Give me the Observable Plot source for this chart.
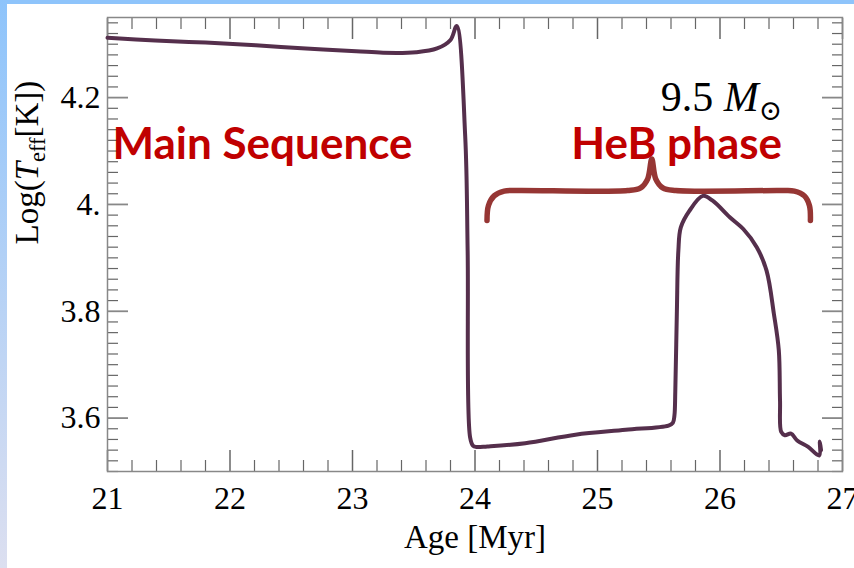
<!DOCTYPE html>
<html><head><meta charset="utf-8">
<script src="https://cdn.jsdelivr.net/npm/d3@7"></script>
<script src="https://cdn.jsdelivr.net/npm/@observablehq/plot@0.6"></script>
<style>
body{margin:0;background:#fff;}
#wrap{position:relative;width:854px;height:568px;overflow:hidden;background:#fff;}
#wrap svg{position:absolute;left:0;top:0;}
#topbar{position:absolute;left:0;top:0;width:854px;height:4px;background:#8ec4fb;}
#leftbar{position:absolute;left:0;top:0;width:7px;height:568px;background:linear-gradient(#8ec4fb,#dcdff0);}
</style></head><body><div id="wrap"></div>
<script>
// Evolutionary track of a 9.5 Msun star: age [Myr] vs log Teff
const ages = [21.00, 21.39, 21.80, 22.21, 22.62, 23.03, 23.25, 23.52, 23.69, 23.80, 23.85,
  23.92, 23.94, 23.96, 23.985, 24.01, 24.10, 24.41, 24.82, 25.23, 25.58, 25.615, 25.628,
  25.635, 25.648, 25.66, 25.68, 25.75, 25.86, 25.94, 26.08, 26.19, 26.30, 26.38, 26.44,
  26.48, 26.49, 26.50, 26.53, 26.58, 26.63, 26.72, 26.81, 26.815, 26.825];
const logTeff = [4.312, 4.307, 4.303, 4.298, 4.292, 4.287, 4.284, 4.285, 4.292, 4.308, 4.334,
  4.128, 3.913, 3.564, 3.548, 3.546, 3.547, 3.553, 3.569, 3.578, 3.586, 3.591, 3.605,
  3.650, 3.800, 3.913, 3.957, 3.988, 4.016, 4.007, 3.976, 3.954, 3.920, 3.876, 3.795,
  3.727, 3.633, 3.574, 3.568, 3.571, 3.558, 3.546, 3.530, 3.556, 3.540];

// Curly brace annotation over the HeB phase (data coordinates)
const braceX = [24.098, 24.110, 24.156, 24.238, 24.344, 25.246, 25.352, 25.410, 25.443,
  25.475, 25.533, 25.639, 26.500, 26.607, 26.689, 26.730, 26.738];
const braceY = [3.970, 3.998, 4.016, 4.025, 4.026, 4.026, 4.031, 4.048, 4.085,
  4.048, 4.031, 4.026, 4.026, 4.025, 4.016, 3.998, 3.970];

// Annotation labels
const phaseLabels = ["Main Sequence", "HeB phase"];
const phaseX = [21.041, 24.786];
const phaseY = [4.1116, 4.1116];
const massLabel = "9.5 Msun";
const massX = 25.516, massY = 4.201;

// Axes
const xMajor = [21, 22, 23, 24, 25, 26, 27];
const xMinor = d3.range(21, 27.001, 0.2).map(v => +v.toFixed(2)).filter(v => !xMajor.includes(v));
const yMajor = [3.6, 3.8, 4.0, 4.2];
const yMinor = d3.range(3.5, 4.35, 0.02).map(v => +v.toFixed(2)).filter(v => !yMajor.includes(v));
const xTitle = "Age [Myr]";
const yTitle = "Log(Teff[K])";

const track = ages.map((a, i) => ({age: a, t: logTeff[i]}));
const brace = braceX.map((x, i) => ({x, y: braceY[i]}));
const labels = phaseLabels.map((l, i) => ({l, x: phaseX[i], y: phaseY[i]}));

const tickCol = "#666";
const serif = "'Liberation Serif', 'Times New Roman', serif";

const chart = Plot.plot({
  width: 854, height: 568,
  marginLeft: 107, marginRight: 12, marginTop: 17, marginBottom: 97,
  style: {background: "transparent", fontFamily: serif, color: "#000"},
  x: {domain: [21, 27]},
  y: {domain: [3.5, 4.35]},
  marks: [
    // inward ticks on all four sides
    Plot.axisX({anchor: "bottom", ticks: xMinor, tickSize: -11, tickFormat: () => "", stroke: tickCol, strokeWidth: 1.2}),
    Plot.axisX({anchor: "bottom", ticks: xMajor, tickSize: -21, tickFormat: () => "", stroke: tickCol, strokeWidth: 1.5}),
    Plot.axisX({anchor: "top", ticks: xMinor, tickSize: -11, tickFormat: () => "", stroke: tickCol, strokeWidth: 1.2}),
    Plot.axisX({anchor: "top", ticks: xMajor, tickSize: -21, tickFormat: () => "", stroke: tickCol, strokeWidth: 1.5}),
    Plot.axisY({anchor: "left", ticks: yMinor, tickSize: -11, tickFormat: () => "", stroke: tickCol, strokeWidth: 1.2}),
    Plot.axisY({anchor: "left", ticks: yMajor, tickSize: -21, tickFormat: () => "", stroke: "#888", strokeWidth: 1.8}),
    Plot.axisY({anchor: "right", ticks: yMinor, tickSize: -11, tickFormat: () => "", stroke: tickCol, strokeWidth: 1.2}),
    Plot.axisY({anchor: "right", ticks: yMajor, tickSize: -21, tickFormat: () => "", stroke: "#888", strokeWidth: 1.8}),
    // tick labels
    Plot.axisX({anchor: "bottom", ticks: xMajor, tickSize: 0, tickPadding: 15, tickFormat: d => String(d), fontSize: 32, fill: "#000"}),
    Plot.axisY({anchor: "left", ticks: yMajor, tickSize: 0, tickPadding: 7, tickFormat: d => d === 4 ? "4." : d.toFixed(1), fontSize: 32, fill: "#000"}),
    Plot.frame({stroke: "#888", strokeWidth: 1.5}),
    // track
    Plot.line(track, {x: "age", y: "t", curve: "catmull-rom", stroke: "#552f4c", strokeWidth: 4, strokeLinejoin: "round"}),
    // brace
    Plot.line(brace, {x: "x", y: "y", curve: "catmull-rom", stroke: "#963634", strokeWidth: 5.5}),
    // phase labels
    Plot.text(labels, {x: "x", y: "y", text: "l", textAnchor: "start", fill: "#c00000",
      fontFamily: "Lato, 'Open Sans', sans-serif", fontWeight: "bold", fontSize: 44}),
    // mass label
    Plot.text([massLabel], {x: massX, y: massY, textAnchor: "start", fontSize: 42, fill: "#000"}),
    // axis titles
    Plot.text([xTitle], {frameAnchor: "bottom", dy: 76, fontSize: 33, fill: "#000"}),
    Plot.text([yTitle], {frameAnchor: "left", dx: -80, rotate: -90, fontSize: 33, fill: "#000"})
  ]
});

const svg = d3.select(chart);
svg.selectAll("text").filter(function() { return this.textContent === yTitle; })
  .each(function() {
    const t = d3.select(this); t.text("");
    t.append("tspan").text("Log(");
    t.append("tspan").attr("font-style", "italic").text("T");
    t.append("tspan").attr("font-size", "0.68em").attr("dy", 7).text("eff");
    t.append("tspan").attr("dy", -7).text("[K])");
  });
svg.selectAll("text").filter(function() { return this.textContent === massLabel; })
  .each(function() {
    const t = d3.select(this); t.text("");
    t.append("tspan").text("9.5 ");
    t.append("tspan").attr("font-style", "italic").text("M");
    t.append("tspan").attr("font-size", "0.67em").attr("dy", 9).attr("font-family", "'DejaVu Serif', serif").text("\u2299");
  });

const wrap = document.getElementById("wrap");
wrap.appendChild(chart);
const tb = document.createElement("div"); tb.id = "topbar"; wrap.appendChild(tb);
const lb = document.createElement("div"); lb.id = "leftbar"; wrap.appendChild(lb);
</script>
</body></html>
